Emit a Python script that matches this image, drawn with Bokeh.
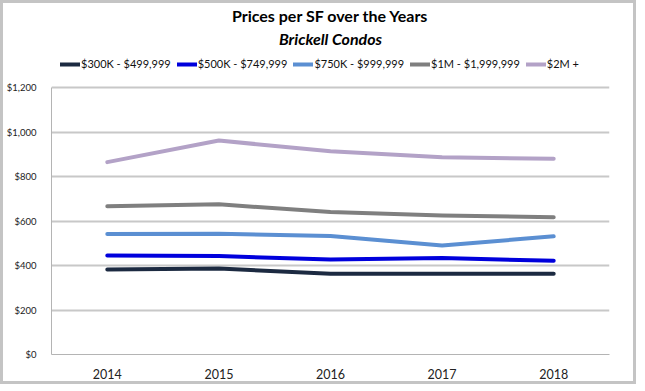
from bokeh.plotting import figure
from bokeh.models import Legend, LegendItem, Title, NumeralTickFormatter, Range1d, FactorRange
from bokeh.embed import file_html
from bokeh.resources import INLINE

years = ["2014", "2015", "2016", "2017", "2018"]
s_300k = [383, 387, 364, 364, 364]
s_500k = [446, 443, 428, 434, 422]
s_750k = [542, 544, 533, 491, 532]
s_1m = [667, 676, 641, 626, 618]
s_2m = [866, 963, 915, 888, 881]
labels = ["$300K - $499,999", "$500K - $749,999", "$750K - $999,999", "$1M - $1,999,999", "$2M +"]
colors = ["#1c2a41", "#0000dc", "#5b8fd2", "#7f7f7f", "#b3a2c7"]
y_ticks = [0, 200, 400, 600, 800, 1000, 1200]

FONT = "Lato"

# frame extended above $1,200 to leave room for the legend row
p = figure(frame_width=558, frame_height=305, x_range=FactorRange(*years), y_range=Range1d(0, 1373),
           output_backend="svg", toolbar_location=None, title=None,
           min_border_left=41, min_border_right=24, min_border_top=39, min_border_bottom=25)
p.styles = {"border": "3px solid #c4c4c4"}
p.outline_line_color = None
p.background_fill_color = "white"
p.border_fill_color = "white"

items = []
for series, lab, col in zip([s_300k, s_500k, s_750k, s_1m, s_2m], labels, colors):
    r = p.line(years, series, line_color=col, line_width=4, line_cap="round", line_join="round")
    items.append(LegendItem(label=lab, renderers=[r]))

p.xgrid.grid_line_color = None
p.ygrid.grid_line_color = "#c8c8c8"
p.ygrid.grid_line_width = 2
p.yaxis.ticker = y_ticks
p.yaxis.bounds = (0, 1200)
p.yaxis.formatter = NumeralTickFormatter(format="$0,0")
for ax in [p.xaxis, p.yaxis]:
    ax.axis_line_color = "#b4b4b4"
    ax.axis_line_width = 1
    ax.major_tick_line_color = None
    ax.minor_tick_line_color = None
    ax.major_label_text_font = FONT
    ax.major_label_text_color = "#222222"
p.yaxis.major_label_standoff = 9
p.yaxis.major_label_text_font_size = "9.5px"
p.xaxis.major_label_text_font_size = "12.5px"
p.xaxis.major_label_standoff = 8

legend = Legend(items=items, orientation="horizontal", location=(9, 284),
                glyph_width=20, glyph_height=10, label_standoff=1, spacing=6,
                padding=0, margin=0, border_line_color=None, background_fill_alpha=0,
                label_text_font=FONT, label_text_font_size="11px", label_text_color="#111111")
p.add_layout(legend)
p.add_layout(Title(text="Brickell Condos", align="center", text_font=FONT, text_font_size="16px",
                   text_font_style="bold italic", text_color="#000000", standoff=4), "above")
p.add_layout(Title(text="Prices per SF over the Years", align="center", text_font=FONT,
                   text_font_size="16px", text_font_style="bold", text_color="#000000", standoff=0), "above")

open("out.html", "w").write(file_html(p, INLINE))
